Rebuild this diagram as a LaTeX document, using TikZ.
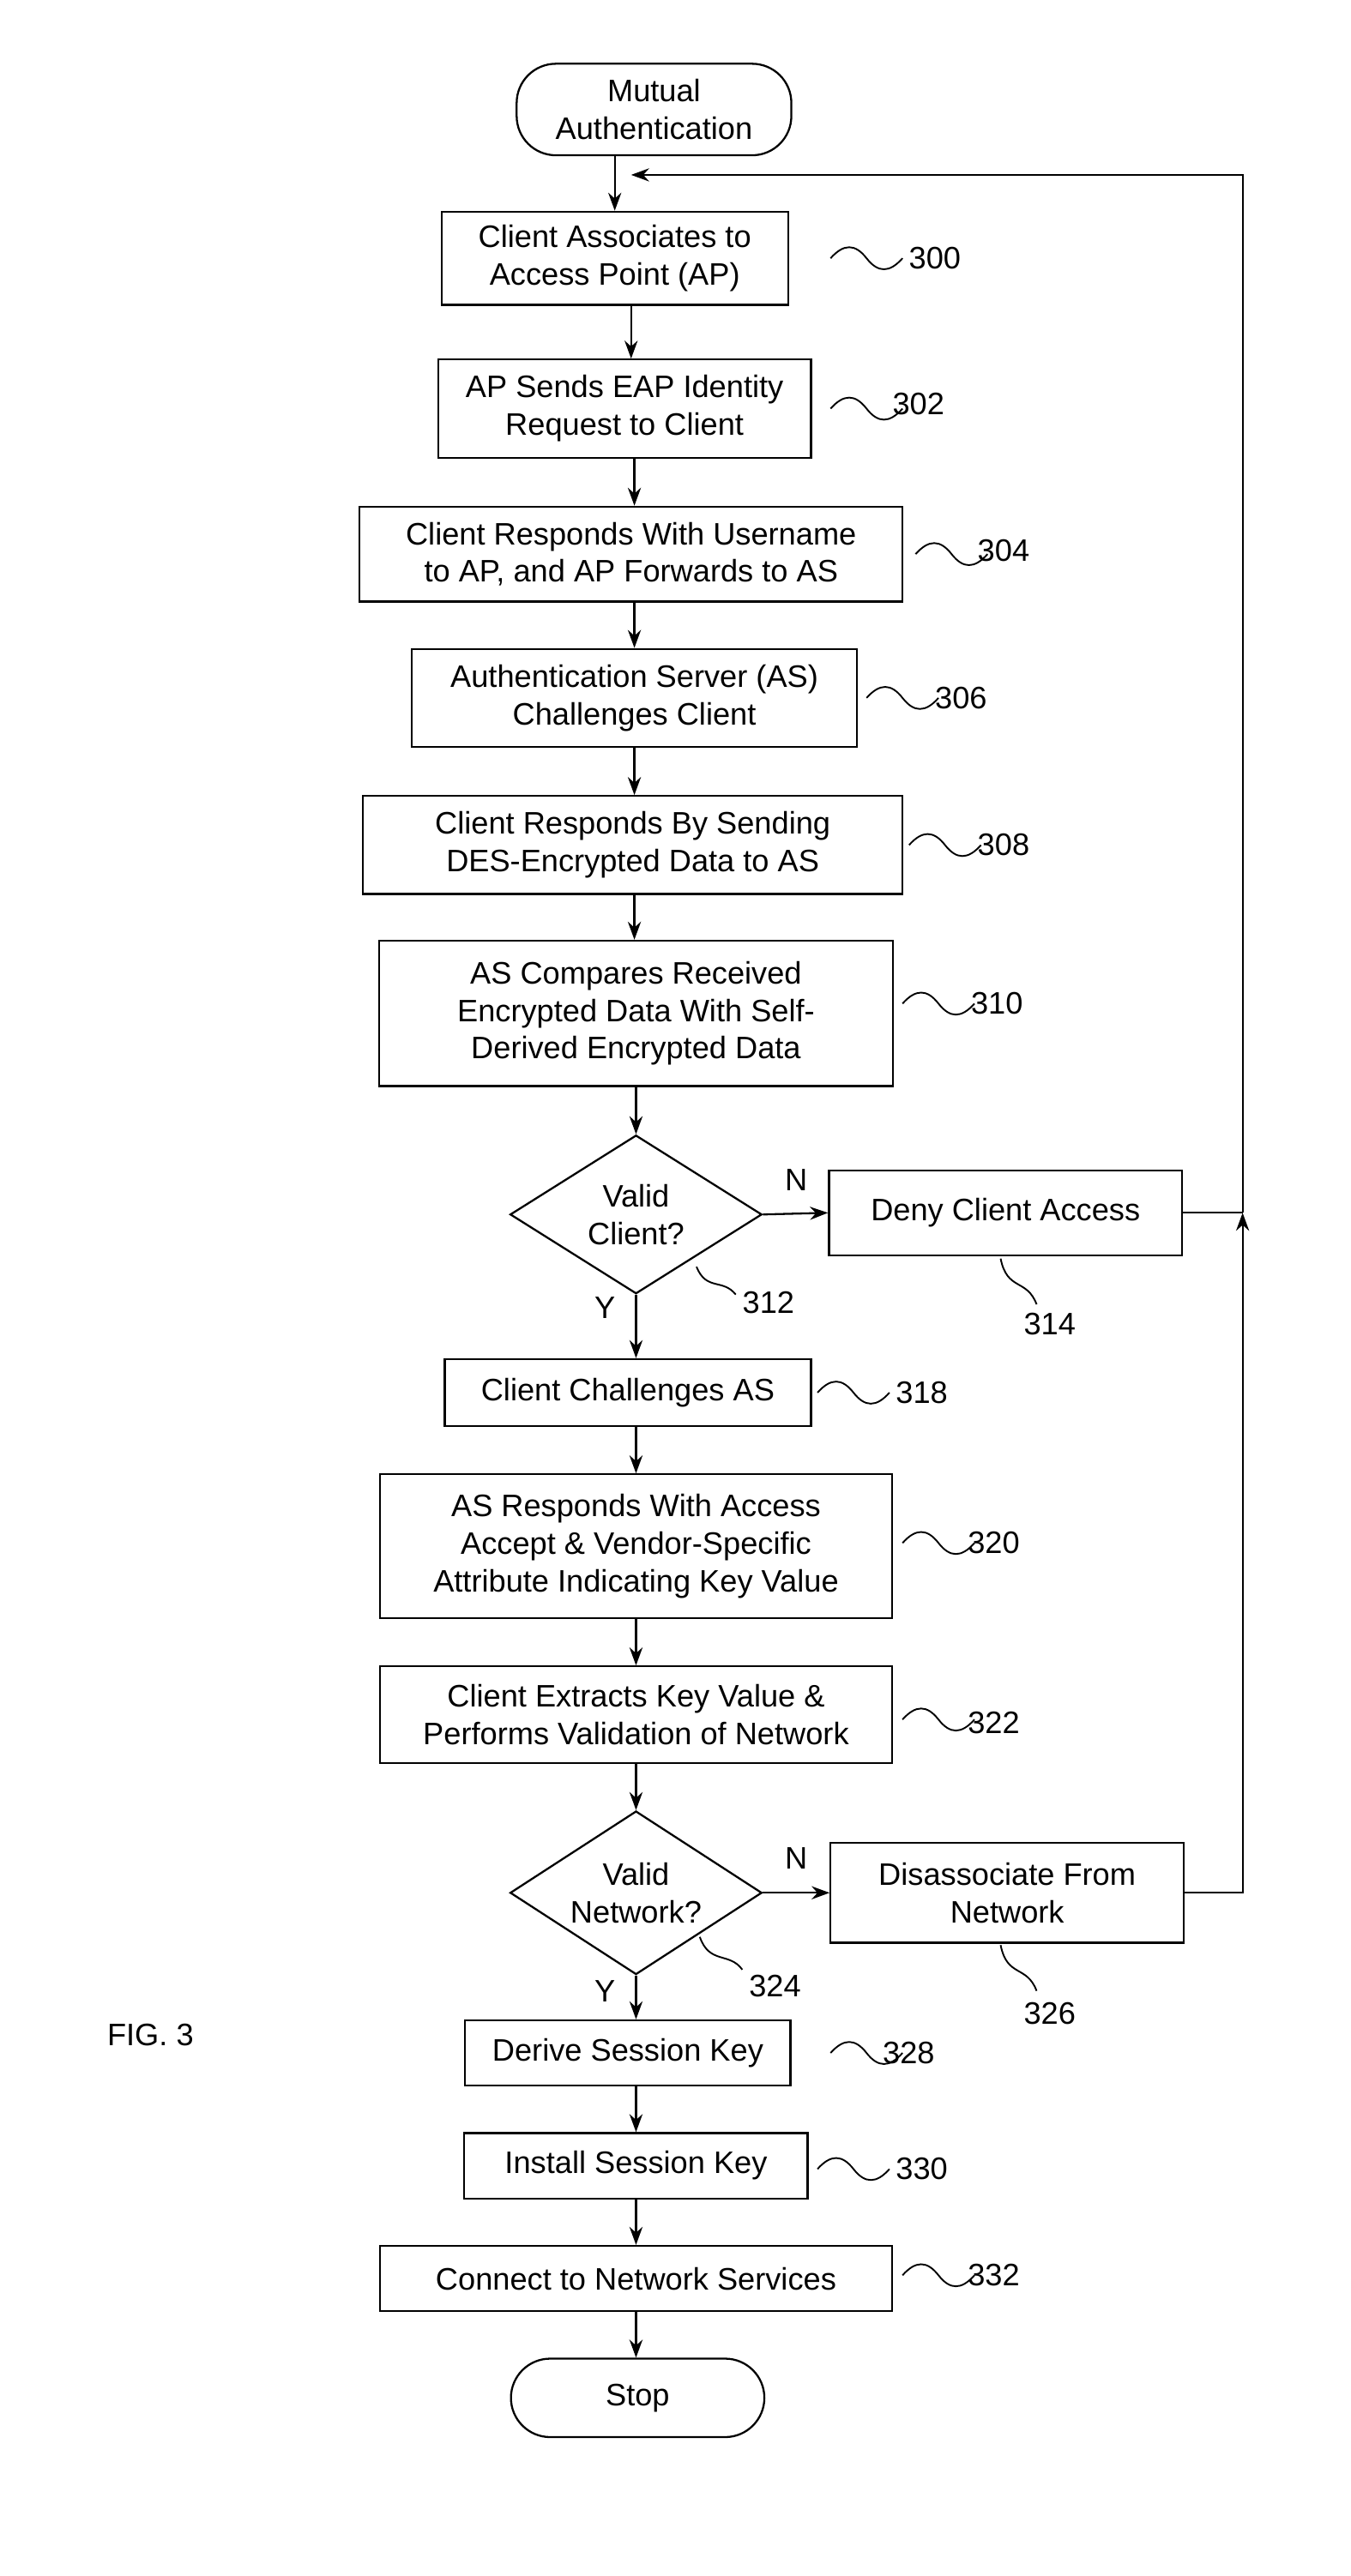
\documentclass[tikz,border=0pt]{standalone}
\usepackage{fontspec}
\setmainfont{Liberation Sans}
\usetikzlibrary{shapes.geometric,arrows.meta}
\begin{document}
\begin{tikzpicture}[x=1pt,y=-1pt,line width=1.2pt,
  every node/.style={font=\fontsize{19}{23}\selectfont},
  box/.style={draw,align=center,minimum height=#1,inner sep=3pt},
  term/.style={draw,rounded corners=24pt,align=center,minimum height=#1},
  dia/.style={draw,diamond,aspect=1.55,align=center,inner sep=1pt},
  arr/.style={-{Stealth[length=11pt,width=8pt]}},
  lab/.style={anchor=west},
  pics/sq/.style={code={\draw[line width=1pt] (0,0) .. controls (8,-9) and (15,-9) .. (22,0) .. controls (29,9) and (36,9) .. (44,0);}}]
\useasboundingbox (0,0) rectangle (826,1576);
\node[term=56pt,minimum width=168pt] (start) at (400,67) {Mutual\\Authentication};
\node[box=57pt,minimum width=212pt] (b300) at (376,158) {Client Associates to\\Access Point (AP)};
\node[box=60pt,minimum width=228pt] (b302) at (382,250) {AP Sends EAP Identity\\Request to Client};
\node[box=58pt,minimum width=332pt] (b304) at (386,339) {Client Responds With Username\\to AP, and AP Forwards to AS};
\node[box=60pt,minimum width=272pt] (b306) at (388,427) {Authentication Server (AS)\\Challenges Client};
\node[box=60pt,minimum width=330pt] (b308) at (387,517) {Client Responds By Sending\\DES-Encrypted Data to AS};
\node[box=89pt,minimum width=314pt] (b310) at (389,620) {AS Compares Received\\Encrypted Data With Self-\\Derived Encrypted Data};
\node[dia,minimum width=154pt,minimum height=97pt] (d312) at (389,743) {Valid\\Client?};
\node[box=52pt,minimum width=216pt] (b314) at (615,742) {Deny Client Access};
\node[box=41pt,minimum width=224pt] (b318) at (384,852) {Client Challenges AS};
\node[box=88pt,minimum width=313pt] (b320) at (389,946) {AS Responds With Access\\Accept \& Vendor-Specific\\Attribute Indicating Key Value};
\node[box=59pt,minimum width=313pt] (b322) at (389,1049) {Client Extracts Key Value \&\\Performs Validation of Network};
\node[dia,minimum width=154pt,minimum height=100pt] (d324) at (389,1158) {Valid\\Network?};
\node[box=61pt,minimum width=216pt] (b326) at (616,1158) {Disassociate From\\Network};
\node[box=40pt,minimum width=199pt] (b328) at (384,1256) {Derive Session Key};
\node[box=40pt,minimum width=210pt] (b330) at (389,1325) {Install Session Key};
\node[box=40pt,minimum width=313pt] (b332) at (389,1394) {Connect to Network Services};
\node[term=48pt,minimum width=155pt] (stop) at (390,1467) {Stop};
\node (fig) at (92,1245) {FIG. 3};
% labels
\pic at (508,158) {sq}; \node[lab] (l300) at (552,158) {300};
\pic at (508,250) {sq}; \node[lab] (l302) at (542,247) {302};
\pic at (560,339) {sq}; \node[lab] (l304) at (594,337) {304};
\pic at (530,427) {sq}; \node[lab] (l306) at (568,427) {306};
\pic at (556,517) {sq}; \node[lab] (l308) at (594,517) {308};
\pic at (552,614) {sq}; \node[lab] (l310) at (590,614) {310};
\pic at (500,852) {sq}; \node[lab] (l318) at (544,852) {318};
\pic at (552,944) {sq}; \node[lab] (l320) at (588,944) {320};
\pic at (552,1052) {sq}; \node[lab] (l322) at (588,1054) {322};
\pic at (508,1256) {sq}; \node[lab] (l328) at (536,1256) {328};
\pic at (500,1327) {sq}; \node[lab] (l330) at (544,1327) {330};
\pic at (552,1392) {sq}; \node[lab] (l332) at (588,1392) {332};
\node (l312) at (470,797) {312};
\draw[line width=1pt] (426,775) .. controls (432,790) and (442,782) .. (450,792);
\node (l314) at (642,810) {314};
\draw[line width=1pt] (612,770) .. controls (616,790) and (628,782) .. (634,798);
\node (l324) at (474,1215) {324};
\draw[line width=1pt] (428,1185) .. controls (434,1202) and (446,1194) .. (454,1205);
\node (l326) at (642,1232) {326};
\draw[line width=1pt] (612,1190) .. controls (616,1210) and (628,1202) .. (634,1218);
\node (N1) at (487,722) {N};
\node (Y1) at (370,800) {Y};
\node (N2) at (487,1137) {N};
\node (Y2) at (370,1218) {Y};
% arrows
\coordinate (top) at (760,107);
\coordinate (mid) at (760,742);
\coordinate (bot) at (760,1158);
\draw[arr] (start.south -| b300) -- (b300);
\draw[arr] (b300.south -| 386,0) -- (b302.north -| 386,0);
\draw[arr] (b302.south -| 388,0) -- (b304.north -| 388,0);
\draw[arr] (b304.south -| 388,0) -- (b306.north -| 388,0);
\draw[arr] (b306.south -| 388,0) -- (b308.north -| 388,0);
\draw[arr] (b308.south -| 388,0) -- (b310.north -| 388,0);
\draw[arr] (b310.south -| 389,0) -- (d312.north);
\draw[arr] (d312.east) -- (b314.west);
\draw[arr] (d312.south) -- (b318.north -| 389,0);
\draw[arr] (b318.south -| 389,0) -- (b320.north);
\draw[arr] (b320.south) -- (b322.north);
\draw[arr] (b322.south) -- (d324.north);
\draw[arr] (d324.east) -- (b326.west);
\draw[arr] (d324.south) -- (b328.north -| 389,0);
\draw[arr] (b328.south -| 389,0) -- (b330.north);
\draw[arr] (b330.south) -- (b332.north);
\draw[arr] (b332.south) -- (stop.north -| 389,0);
\draw (b314.east) -- (mid);
\draw[arr] (b326.east) -- (bot) -- (mid);
\draw[arr] (mid) -- (top) -- (386,107);
\end{tikzpicture}
\end{document}
